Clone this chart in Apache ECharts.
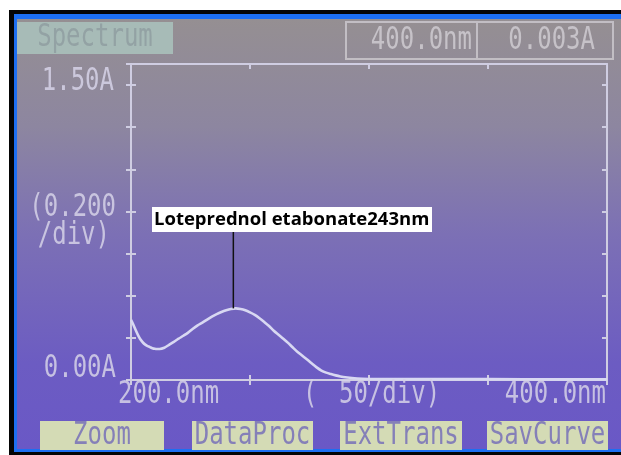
<!DOCTYPE html>
<html><head><meta charset="utf-8">
<script src="https://cdn.jsdelivr.net/npm/echarts@6/dist/echarts.min.js"></script>
<style>html,body{margin:0;padding:0;background:#fff}#c{width:621px;height:455px}</style>
</head><body><div id="c"></div>
<script>
// ---- data ----
const wavelengths = [200,201,202,203,204,205,206,207,208,209,210,211,212,214,216,218,220,222,224,226,228,230,232,234,236,238,240,242,244,246,248,250,252,254,256,258,260,262,264,266,268,270,272,274,276,278,280,282,284,286,288,290,295,300,320,350,380,400];
const absorbance  = [0.285,0.262,0.236,0.212,0.192,0.178,0.168,0.161,0.156,0.151,0.148,0.147,0.147,0.153,0.167,0.181,0.196,0.210,0.225,0.243,0.259,0.272,0.287,0.301,0.313,0.323,0.331,0.337,0.340,0.337,0.331,0.321,0.309,0.293,0.275,0.256,0.234,0.215,0.196,0.176,0.154,0.133,0.115,0.097,0.078,0.060,0.045,0.035,0.028,0.022,0.017,0.013,0.007,0.005,0.004,0.004,0.003,0.003];
const yLabels = ['1.50A','(0.200','/div)','0.00A'];
const xLabels = ['200.0nm','(','50/div)','400.0nm'];
const readout = ['400.0nm','0.003A'];
const screenTitle = 'Spectrum';
const buttons = ['Zoom','DataProc','ExtTrans','SavCurve'];
const peakLabel = 'Loteprednol etabonate243nm';
const peakWl = 243;
const peakA = 0.340;
const xMin = 200, xMax = 400, xStep = 50;
const yMin = 0, yMax = 1.5, yStep = 0.2;

const chart = echarts.init(document.getElementById('c'), null, {renderer:'canvas'});
const axisCol = '#cfcde2';
const txtCol = 'rgba(214,210,232,0.85)';
const mono = '"DejaVu Sans Mono", monospace';

function lcdText(text, x, y, align, fill, size, sy) {
  return {type:'text', x:x, y:y, scaleY: sy || 1.3, z:50,
    style:{text:text, font: (size||24)+'px '+mono, fill: fill||txtCol, align: align||'left', verticalAlign:'middle'}};
}

const pairs = wavelengths.map((w,i)=>[w, absorbance[i]]);

function axisX(pos, inside, showLine){
  return {type:'value', position:pos, min:xMin, max:xMax, interval:xStep,
    axisLine:{show:showLine, onZero:false, lineStyle:{color:axisCol, width:2}},
    axisTick:{show:true, inside:inside, length:5, lineStyle:{color:axisCol, width:2}},
    axisLabel:{show:false}, splitLine:{show:false}};
}
function axisY(pos, inside, showLine){
  return {type:'value', position:pos, min:yMin, max:yMax, interval:yStep,
    axisLine:{show:showLine, onZero:false, lineStyle:{color:axisCol, width:2}},
    axisTick:{show:true, inside:inside, length:5, lineStyle:{color:axisCol, width:2}},
    axisLabel:{show:false}, splitLine:{show:false}};
}

const bg = [
  {type:'rect', z:-100, shape:{x:9,y:10,width:612,height:445}, style:{fill:'#050505'}},
  {type:'rect', z:-99, shape:{x:14,y:14,width:607,height:438}, style:{fill:'#1d6ff2'}},
  {type:'rect', z:-98, shape:{x:17,y:19,width:604,height:430}, style:{fill:{type:'linear',x:0,y:0,x2:0,y2:1,colorStops:[
    {offset:0,color:'#958f92'},{offset:0.25,color:'#8d86a0'},{offset:0.5,color:'#7c70b5'},{offset:0.8,color:'#6c5cc2'},{offset:1,color:'#6a58c6'}]}}},
  // Spectrum title box
  {type:'rect', z:40, shape:{x:17,y:22,width:156,height:32}, style:{fill:'#a7bbb7'}},
  lcdText(screenTitle, 95, 38, 'center', '#93a2a4'),
  // readout boxes
  {type:'rect', z:40, shape:{x:346,y:22,width:131,height:37}, style:{fill:'none', stroke:'#c2bec4', lineWidth:2}},
  {type:'rect', z:40, shape:{x:477,y:22,width:136,height:37}, style:{fill:'none', stroke:'#c2bec4', lineWidth:2}},
  lcdText(readout[0], 472, 41, 'right', '#c6c2c8'),
  lcdText(readout[1], 595, 41, 'right', '#c6c2c8'),
  // y side labels
  lcdText(yLabels[0], 114, 82, 'right'),
  lcdText(yLabels[1], 116, 208, 'right'),
  lcdText(yLabels[2], 110, 236, 'right'),
  lcdText(yLabels[3], 116, 369, 'right'),
  // x labels
  lcdText(xLabels[0], 118, 395, 'left'),
  lcdText(xLabels[1], 303, 395, 'left'),
  lcdText(xLabels[2], 339, 395, 'left'),
  lcdText(xLabels[3], 606, 395, 'right')
];
const btnX = [[40,124],[192,121],[340,122],[487,121]];
buttons.forEach((b,i)=>{
  bg.push({type:'rect', z:40, shape:{x:btnX[i][0], y:421, width:btnX[i][1], height:29}, style:{fill:'#d4dbb5'}});
  bg.push(lcdText(b, btnX[i][0]+btnX[i][1]/2, 436, 'center', '#8580b8'));
});

chart.setOption({
  animation:false,
  backgroundColor:'#ffffff',
  grid:{left:131, right:14, top:64, bottom:75},
  xAxis:[axisX('bottom', false, true), axisX('bottom', true, false), axisX('top', true, true)],
  yAxis:[axisY('left', false, true), axisY('left', true, false), axisY('right', true, true)],
  series:[{type:'line', data:pairs, xAxisIndex:0, yAxisIndex:0, smooth:0.3, showSymbol:false, z:5,
    lineStyle:{color:'#d8d8f2', width:2.6}}],
  graphic: bg
});

// annotation: line from peak up to label
const p = chart.convertToPixel({xAxisIndex:0, yAxisIndex:0}, [peakWl, peakA]);
const boxTop = 207, boxH = 25, boxLeft = 152, boxW = 280;
chart.setOption({graphic: bg.concat([
  {type:'line', z:60, shape:{x1:p[0], y1:p[1], x2:p[0], y2:boxTop+boxH}, style:{stroke:'#111', lineWidth:1.5}},
  {type:'rect', z:60, shape:{x:boxLeft, y:boxTop, width:boxW, height:boxH}, style:{fill:'#ffffff'}},
  {type:'text', z:61, x:boxLeft+2, y:boxTop+boxH/2, style:{text:peakLabel, font:'bold 18.5px "Open Sans", sans-serif', fill:'#000', align:'left', verticalAlign:'middle'}}
])});
</script></body></html>
